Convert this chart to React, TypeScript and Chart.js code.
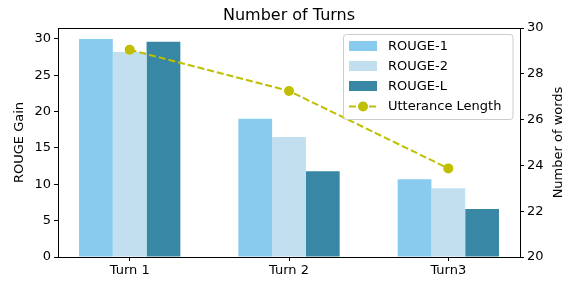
import React, { useEffect, useRef } from "react";
import { Chart, registerables } from "chart.js";

Chart.register(...registerables);

const categories = ["Turn 1", "Turn 2", "Turn3"];
const rouge1 = [30.0, 19.0, 10.7];
const rouge2 = [28.2, 16.5, 9.45];
const rougeL = [29.6, 11.8, 6.6];
const utteranceLength = [29.05, 27.25, 23.87];
const leftTicks = [0, 5, 10, 15, 20, 25, 30];
const rightTicks = [20, 22, 24, 26, 28, 30];

const C1 = "#89CBEF";
const C2 = "#C2DFF0";
const CL = "#3787A5";
const CLINE = "#BFBF00";
const FONT = "'DejaVu Sans', sans-serif";

const overlay = {
  id: "overlay",
  afterDraw(chart: any) {
    const { ctx, chartArea } = chart;
    const { left, right, top, bottom } = chartArea;
    ctx.save();
    // top frame
    ctx.strokeStyle = "#000";
    ctx.lineWidth = 1;
    ctx.beginPath();
    ctx.moveTo(left, top + 0.5);
    ctx.lineTo(right + 1, top + 0.5);
    ctx.stroke();

    // title
    ctx.fillStyle = "#000";
    ctx.font = `16px ${FONT}`;
    ctx.textAlign = "center";
    ctx.textBaseline = "alphabetic";
    ctx.fillText("Number of Turns", (left + right) / 2, 20);

    // axis titles
    ctx.font = `13px ${FONT}`;
    ctx.textBaseline = "middle";
    const midY = (top + bottom) / 2;
    ctx.save();
    ctx.translate(19.5, midY);
    ctx.rotate(-Math.PI / 2);
    ctx.fillText("ROUGE Gain", 0, 0);
    ctx.restore();
    ctx.save();
    ctx.translate(559, midY);
    ctx.rotate(-Math.PI / 2);
    ctx.fillText("Number of words", 0, 0);
    ctx.restore();

    // legend
    const lx = 343.5, ly = 34.5, lw = 169.5, lh = 85, r = 3;
    ctx.beginPath();
    ctx.moveTo(lx + r, ly);
    ctx.lineTo(lx + lw - r, ly);
    ctx.arcTo(lx + lw, ly, lx + lw, ly + r, r);
    ctx.lineTo(lx + lw, ly + lh - r);
    ctx.arcTo(lx + lw, ly + lh, lx + lw - r, ly + lh, r);
    ctx.lineTo(lx + r, ly + lh);
    ctx.arcTo(lx, ly + lh, lx, ly + lh - r, r);
    ctx.lineTo(lx, ly + r);
    ctx.arcTo(lx, ly, lx + r, ly, r);
    ctx.closePath();
    ctx.fillStyle = "rgba(255,255,255,0.8)";
    ctx.fill();
    ctx.strokeStyle = "#cccccc";
    ctx.lineWidth = 1;
    ctx.stroke();

    const items = [
      { label: "ROUGE-1", color: C1 },
      { label: "ROUGE-2", color: C2 },
      { label: "ROUGE-L", color: CL },
    ];
    ctx.textAlign = "left";
    items.forEach((it, i) => {
      const cy = 46 + i * 20;
      ctx.fillStyle = it.color;
      ctx.fillRect(349, cy - 5, 28, 10);
      ctx.fillStyle = "#000";
      ctx.fillText(it.label, 388, cy + 0.5);
    });
    const cy = 106.5;
    ctx.strokeStyle = CLINE;
    ctx.lineWidth = 2;
    ctx.setLineDash([7, 3]);
    ctx.beginPath();
    ctx.moveTo(349, cy);
    ctx.lineTo(377, cy);
    ctx.stroke();
    ctx.setLineDash([]);
    ctx.fillStyle = CLINE;
    ctx.beginPath();
    ctx.arc(363, cy, 5, 0, Math.PI * 2);
    ctx.fill();
    ctx.fillStyle = "#000";
    ctx.fillText("Utterance Length", 388, cy + 0.5);
    ctx.restore();
  },
};

export default function App() {
  const ref = useRef<HTMLCanvasElement | null>(null);
  useEffect(() => {
    document.body.style.margin = "0";
    const toPts = (arr: number[]) => arr.map((y, i) => ({ x: i, y }));
    const tickFont = { family: FONT, size: 13 };
    const chart = new Chart(ref.current as HTMLCanvasElement, {
      type: "bar",
      data: {
        datasets: [
          { type: "line", label: "Utterance Length", data: toPts(utteranceLength), yAxisID: "y1", xAxisID: "x",
            borderColor: CLINE, backgroundColor: CLINE, borderWidth: 2, borderDash: [7, 3],
            pointRadius: 5, pointHoverRadius: 5, pointBorderWidth: 0, pointBackgroundColor: CLINE, order: 0 } as any,
          { label: "ROUGE-1", data: toPts(rouge1), backgroundColor: C1, yAxisID: "y", order: 1 } as any,
          { label: "ROUGE-2", data: toPts(rouge2), backgroundColor: C2, yAxisID: "y", order: 1 } as any,
          { label: "ROUGE-L", data: toPts(rougeL), backgroundColor: CL, yAxisID: "y", order: 1 } as any,
        ],
      },
      options: {
        responsive: false,
        animation: false,
        events: [],
        layout: { padding: { top: 28, left: 0, right: 0, bottom: 0 } },
        datasets: { bar: { categoryPercentage: 0.636, barPercentage: 1 } } as any,
        plugins: { legend: { display: false }, title: { display: false }, tooltip: { enabled: false } },
        scales: {
          x: {
            type: "linear",
            position: "bottom",
            min: -0.45,
            max: 2.45,
            offset: false,
            afterBuildTicks: (s: any) => { s.ticks = categories.map((_, i) => ({ value: i })); },
            afterFit: (s: any) => { s.height = 25; },
            ticks: { autoSkip: false, maxRotation: 0, color: "#000", font: tickFont, padding: 2,
              callback: (v: any) => categories[v] ?? "" },
            grid: { drawOnChartArea: false, offset: false, tickLength: 4, tickColor: "#000" },
            border: { color: "#000", width: 1 },
          },
          y: {
            type: "linear",
            position: "left",
            min: 0,
            max: 31.5,
            afterBuildTicks: (s: any) => { s.ticks = leftTicks.map((v) => ({ value: v })); },
            afterFit: (s: any) => { s.width = 58; },
            ticks: { color: "#000", font: tickFont, padding: 3 },
            grid: { drawOnChartArea: false, tickLength: 4, tickColor: "#000" },
            border: { color: "#000", width: 1 },
          },
          y1: {
            type: "linear",
            position: "right",
            min: 20,
            max: 30,
            afterBuildTicks: (s: any) => { s.ticks = rightTicks.map((v) => ({ value: v })); },
            afterFit: (s: any) => { s.width = 53; },
            ticks: { color: "#000", font: tickFont, padding: 3 },
            grid: { drawOnChartArea: false, tickLength: 4, tickColor: "#000" },
            border: { color: "#000", width: 1 },
          },
        },
      } as any,
      plugins: [overlay],
    });
    return () => chart.destroy();
  }, []);
  return (
    <div style={{ width: 573, height: 282, background: "#fff" }}>
      <canvas ref={ref} width={573} height={282} style={{ display: "block" }} />
    </div>
  );
}
